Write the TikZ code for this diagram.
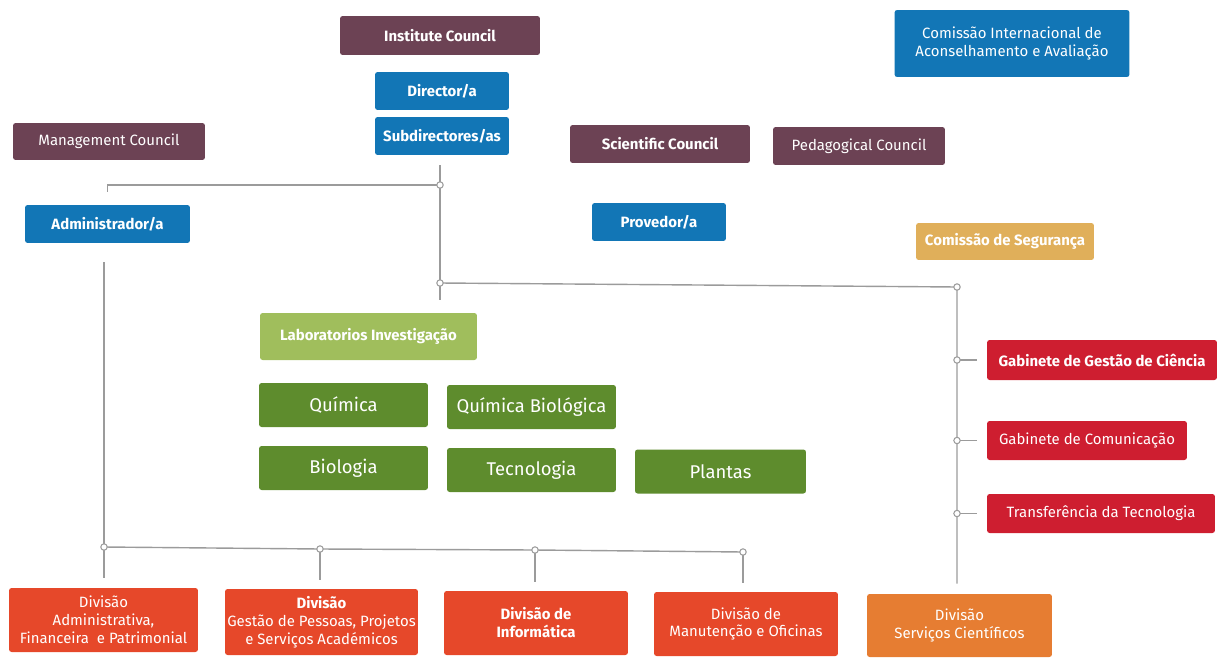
\documentclass[tikz,border=0pt]{standalone}
\usepackage{fontspec}
\setmainfont{Fira Sans}
\usetikzlibrary{calc}

\definecolor{council}{RGB}{108,66,84}
\definecolor{board}{RGB}{18,118,182}
\definecolor{safety}{RGB}{224,175,90}
\definecolor{labgreen}{RGB}{160,190,92}
\definecolor{areagreen}{RGB}{94,140,45}
\definecolor{office}{RGB}{206,30,48}
\definecolor{division}{RGB}{230,72,42}
\definecolor{services}{RGB}{230,125,50}
\definecolor{linegray}{RGB}{155,155,155}

\begin{document}
\begin{tikzpicture}[x=0.02cm,y=-0.02cm,
    box/.style={rectangle, rounded corners=1.5pt, text=white, align=center, inner sep=1pt,
                font=\fontsize{8.5}{10.2}\selectfont},
    bbox/.style={box, font=\fontsize{8.5}{10.2}\selectfont\bfseries},
    areabox/.style={box, fill=areagreen, minimum width=3.38cm, minimum height=0.88cm,
                font=\fontsize{10.5}{12}\selectfont},
    divbox/.style={box, fill=division, minimum width=3.7cm, minimum height=1.28cm},
    link/.style={draw=linegray, line width=0.8pt}]

    \useasboundingbox (0,0) rectangle (1227,659);

    % Top governing bodies
    \node[bbox, fill=council, minimum width=4cm, minimum height=0.78cm] (inst) at (440,35.5) {Institute Council};
    \node[bbox, fill=board, minimum width=2.68cm, minimum height=0.76cm] (dir) at (442,91) {Director/a};
    \node[bbox, fill=board, minimum width=2.68cm, minimum height=0.76cm] (subdir) at (442,136) {Subdirectores/as};
    \node[box, fill=council, minimum width=3.84cm, minimum height=0.74cm] (mgmt) at (109,141.5) {Management Council};
    \node[box, fill=board, minimum width=4.7cm, minimum height=1.34cm] (cia) at (1012,43.5) {Comissão Internacional de\\Aconselhamento e Avaliação};
    \node[bbox, fill=council, minimum width=3.6cm, minimum height=0.76cm] (sci) at (660,144) {Scientific Council};
    \node[box, fill=council, minimum width=3.44cm, minimum height=0.76cm] (ped) at (859,146) {Pedagogical Council};
    \node[bbox, fill=board, minimum width=2.68cm, minimum height=0.76cm] (prov) at (659,222) {Provedor/a};
    \node[bbox, fill=safety, minimum width=3.56cm, minimum height=0.74cm] (seg) at (1005,241.5) {Comissão de Segurança};
    \node[bbox, fill=board, minimum width=3.3cm, minimum height=0.76cm] (adm) at (107.5,224) {Administrador/a};

    % Research laboratories
    \node[bbox, fill=labgreen, minimum width=4.34cm, minimum height=0.94cm] (lab) at (368.5,336.5) {Laboratorios Investigação};
    \node[areabox] (qui) at (343.5,405) {Química};
    \node[areabox] (quib) at (531.5,407) {Química Biológica};
    \node[areabox] (bio) at (343.5,468) {Biologia};
    \node[areabox] (tec) at (531.5,470) {Tecnologia};
    \node[areabox, minimum width=3.42cm] (pla) at (720.5,471.5) {Plantas};

    % Offices on the right
    \node[bbox, fill=office, minimum width=4.6cm, minimum height=0.8cm] (ggc) at (1102,360) {Gabinete de Gestão de Ciência};
    \node[box, fill=office, minimum width=4cm, minimum height=0.78cm] (gcom) at (1087,440.5) {Gabinete de Comunicação};
    \node[box, fill=office, minimum width=4.56cm, minimum height=0.78cm] (ttec) at (1101,513.5) {Transferência da Tecnologia};

    % Divisions
    \node[divbox, minimum width=3.78cm] (dafp) at (103.5,620) {Divisão\\Administrativa,\\Financeira \ e Patrimonial};
    \node[divbox, minimum width=3.86cm, minimum height=1.32cm] (dgp) at (321.5,622) {\textbf{Divisão}\\Gestão de Pessoas, Projetos\\e Serviços Académicos};
    \node[divbox, minimum width=3.68cm, font=\fontsize{8.5}{10.2}\selectfont\bfseries] (dinf) at (536,623) {Divisão de\\Informática};
    \node[divbox, minimum width=3.68cm] (dmo) at (746,624) {Divisão de\\Manutenção e Oficinas};
    \node[divbox, fill=services, minimum height=1.26cm] (dsc) at (959.5,625.5) {Divisão\\Serviços Científicos};

    % Junctions
    \coordinate (jtop) at (440,185);
    \coordinate (jlab) at (440,283);
    \coordinate (jright) at (957,287);
    \coordinate (jg1) at (957,360);
    \coordinate (jg2) at (957,440.5);
    \coordinate (jg3) at (957,513.5);
    \coordinate (jb1) at (104,547);
    \coordinate (jb2) at (320,549);
    \coordinate (jb3) at (535,550);
    \coordinate (jb4) at (743,552);

    % Connectors
    \draw[link] ($(subdir.south)+(-2,10)$) -- (jtop) -- (jlab) -- ($(lab.north-|jlab)+(0,-13)$);
    \draw[link] (jtop) -- (jtop-|adm) -- ($(jtop-|adm)+(0,7)$);
    \draw[link] (jlab) -- (jright) -- ($(dsc.north-|jright)+(0,-10)$);
    \foreach \j/\b in {jg1/ggc, jg2/gcom, jg3/ttec}
        \draw[link] (\j) -- ($(\b.west|-\j)+(-10,0)$);
    \draw[link] ($(adm.south)+(-3.5,19)$) -- (jb1) -- ($(dafp.north-|jb1)+(0,-10)$);
    \draw[link] (jb1) -- (jb2) -- (jb3) -- (jb4);
    \foreach \j/\b in {jb2/dgp, jb3/dinf, jb4/dmo}
        \draw[link] (\j) -- ($(\b.north-|\j)+(0,-9)$);

    % Junction dots
    \foreach \j in {jtop, jlab, jright, jg1, jg2, jg3, jb1, jb2, jb3, jb4}
        \filldraw[draw=linegray, fill=white, line width=0.6pt] (\j) circle (3.2);
\end{tikzpicture}
\end{document}
